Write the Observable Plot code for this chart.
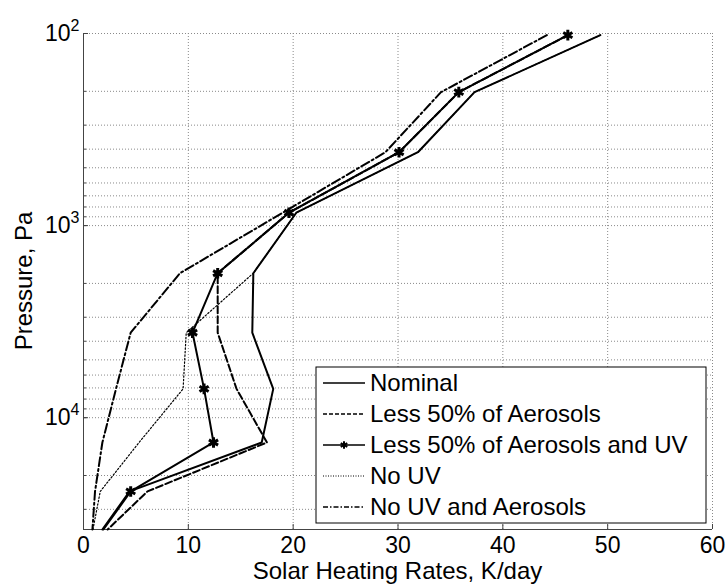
<!DOCTYPE html>
<html><head><meta charset="utf-8">
<script src="https://cdn.jsdelivr.net/npm/d3@7"></script>
<script src="https://cdn.jsdelivr.net/npm/@observablehq/plot@0.6"></script>
<style>
body{margin:0;background:#fff;}
#chart svg{font-family:"Liberation Sans", Arial, sans-serif;}
</style></head><body><div id="chart"></div>
<script>
// Pressure levels (Pa) and solar heating rates (K/day)
const pressure       = [102, 202, 415, 857, 1770, 3610, 7080, 13460, 24200, 38200];
const nominal        = [49.3, 37.3, 31.9, 20.3, 16.2, 16.1, 18.1, 17.0, 4.4, 1.8];
const lessAerosols   = [46.2, 35.8, 30.1, 19.6, 12.8, 12.8, 14.6, 17.5, 6.1, 2.3];
const lessAerosolsUV = [46.2, 35.8, 30.1, 19.6, 12.8, 10.4, 11.5, 12.4, 4.5, 1.9];
const noUV           = [49.3, 37.3, 31.9, 20.3, 16.2, 9.8, 9.5, 5.3, 1.6, 0.9];
const noUVAerosols   = [44.2, 34.1, 28.8, 19.0, 9.2, 4.5, 3.1, 1.8, 1.1, 0.85];
const seriesNames = ["Nominal", "Less 50% of Aerosols", "Less 50% of Aerosols and UV", "No UV", "No UV and Aerosols"];
const xTicks = [0, 10, 20, 30, 40, 50, 60];
const yMajor = [100, 1000, 10000];
const yExponents = ["2", "3", "4"];
const yDomain = [100, 38200];

(function () {
const seriesValues = [nominal, lessAerosols, lessAerosolsUV, noUV, noUVAerosols];
const styles = [
  {strokeWidth: 2, dash: null, marker: false},
  {strokeWidth: 2, dash: "7,3", marker: false},
  {strokeWidth: 2, dash: null, marker: true},
  {strokeWidth: 1.2, dash: "1.5,2", marker: false},
  {strokeWidth: 2, dash: "9,3,2,3", marker: false}
];
const rows = [];
seriesNames.forEach((name, s) => {
  pressure.forEach((p, i) => rows.push({series: name, p, v: seriesValues[s][i]}));
});

const yMinor = [];
for (let d = 100; d < 100000; d *= 10) for (let k = 1; k <= 9; k++) {
  const v = d * k; if (v >= yDomain[0] && v <= yDomain[1]) yMinor.push(v);
}

const gridStyle = {stroke: "#8a8a8a", strokeOpacity: 1, strokeWidth: 1, strokeDasharray: "1,2"};

const marks = [
  Plot.gridX({ticks: xTicks, ...gridStyle}),
  Plot.gridY({ticks: yMinor, ...gridStyle}),
  Plot.axisX({ticks: xTicks, tickSize: -5, tickFormat: () => "", label: null, stroke: "#444"}),
  Plot.axisY({ticks: yMinor, tickSize: -3, tickFormat: () => "", label: null, stroke: "#444"}),
  Plot.axisY({ticks: yMajor, tickSize: -5, tickFormat: () => "", label: null, stroke: "#444"}),
  Plot.axisX({ticks: xTicks, tickSize: 0, tickPadding: 7, label: null, fontSize: 23}),
  Plot.axisY({ticks: yMajor, tickSize: 0, tickPadding: 4, label: null, fontSize: 23, tickFormat: d => String(d)}),
  Plot.ruleX([0], {stroke: "#444", strokeWidth: 1}),
  Plot.ruleY([yDomain[1]], {stroke: "#444", strokeWidth: 1})
];
seriesNames.forEach((name, s) => {
  const st = styles[s];
  const data = rows.filter(r => r.series === name);
  marks.push(Plot.line(data, {
    x: "v", y: "p", stroke: "black", strokeWidth: st.strokeWidth,
    strokeDasharray: st.dash, strokeLinejoin: "miter"
  }));
  if (st.marker) {
    // markers on the levels inside the axes (the last level sits on the axis edge)
    marks.push(Plot.dot(data.filter(r => r.p < yDomain[1]), {
      x: "v", y: "p", symbol: "asterisk", r: 5, stroke: "black", strokeWidth: 3
    }));
  }
});

const chart = Plot.plot({
  width: 728, height: 587,
  marginLeft: 83, marginRight: 16, marginTop: 33, marginBottom: 58,
  style: {fontFamily: "'Liberation Sans', Arial, sans-serif", fontSize: "23px", color: "black", background: "white", overflow: "visible"},
  x: {domain: [0, 60]},
  y: {type: "log", domain: yDomain, reverse: true},
  marks
});
document.getElementById("chart").appendChild(chart);

const svg = d3.select(chart);
// superscript exponents on y tick labels
svg.selectAll('g[aria-label="y-axis tick label"] text').each(function () {
  const t = d3.select(this);
  const val = +t.text();
  const idx = yMajor.indexOf(val);
  if (idx < 0) return;
  t.text(null);
  t.append("tspan").text("10");
  t.append("tspan").attr("dy", "-0.6em").attr("font-size", "16px").text(yExponents[idx]);
});

const xs = chart.scale("x"), ys = chart.scale("y");
const pLeft = xs.apply(0), pRight = xs.apply(60), pTop = ys.apply(yDomain[0]), pBottom = ys.apply(yDomain[1]);

// axis titles
svg.append("text").attr("x", (pLeft + pRight) / 2).attr("y", pBottom + 50)
  .attr("text-anchor", "middle").attr("font-size", 24).attr("fill", "black")
  .text("Solar Heating Rates, K/day");
svg.append("text").attr("transform", `translate(${pLeft - 51},${(pTop + pBottom) / 2}) rotate(-90)`)
  .attr("text-anchor", "middle").attr("font-size", 24).attr("fill", "black")
  .text("Pressure, Pa");

// legend
const lw = 390, lh = 156;
const lx = pRight - 6 - lw, ly = pBottom - 6 - lh;
const lg = svg.append("g").attr("text-anchor", "start");
lg.append("rect").attr("x", lx).attr("y", ly).attr("width", lw).attr("height", lh)
  .attr("fill", "white").attr("stroke", "black").attr("stroke-width", 1);
seriesNames.forEach((name, s) => {
  const st = styles[s];
  const cy = ly + 16 + s * 31;
  lg.append("line").attr("x1", lx + 7).attr("x2", lx + 49).attr("y1", cy).attr("y2", cy)
    .attr("stroke", "black").attr("stroke-width", Math.min(st.strokeWidth, 1.6))
    .attr("stroke-dasharray", st.dash ? (s === 3 ? "1,1.5" : (s === 1 ? "4,2" : "5,2,1.5,2")) : null);
  if (st.marker) {
    lg.append("path").attr("transform", `translate(${lx + 28},${cy})`)
      .attr("d", d3.symbol(d3.symbolAsterisk, 40)()).attr("stroke", "black").attr("stroke-width", 2).attr("fill", "none");
  }
  lg.append("text").attr("x", lx + 54).attr("y", cy).attr("dy", "0.35em")
    .attr("text-anchor", "start")
    .attr("font-size", 24).attr("fill", "black").text(name);
});
})();
</script></body></html>
